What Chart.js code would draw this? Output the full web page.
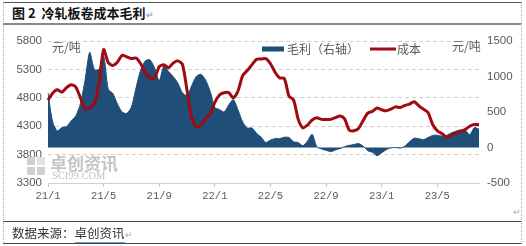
<!DOCTYPE html>
<html>
<head>
<meta charset="utf-8">
<script src="https://cdn.jsdelivr.net/npm/chart.js@4/dist/chart.umd.min.js"></script>
<style>
  body { margin: 0; background: #fff; }
  #wrap { position: relative; width: 526px; height: 246px; font-family: "Noto Sans CJK SC", sans-serif; }
  .hline { position: absolute; left: 3px; width: 518px; height: 0; }
  .vline { position: absolute; top: 2px; height: 242px; width: 0; border-left: 1px dotted #aaa; }
  #title { position: absolute; left: 12px; top: 3px; font-size: 13px; font-weight: bold; color: #111; line-height: 20px; }
  #source { position: absolute; left: 12px; top: 223px; font-size: 12.5px; color: #333; line-height: 19px; }
  #source u { text-decoration: none; border-bottom: 1px solid #6e9be0; }
  .mark { color: #aaa; font-size: 9px; }
  #box { position: absolute; left: 4px; top: 25px; width: 516px; height: 195px; }
</style>
</head>
<body>
<div id="wrap">
  <div class="hline" style="top:2px; border-top:1.5px solid #555;"></div>
  <div class="vline" style="left:3px;"></div>
  <div class="vline" style="left:521px;"></div>
  <div id="title">图 2&nbsp;&nbsp;冷轧板卷成本毛利<span class="mark">↵</span></div>
  <div class="hline" style="top:23px; border-top:2px solid #888;"></div>
  <div id="box"><canvas id="costChart"></canvas></div>
  <div class="mark" style="position:absolute; left:513px; top:205px;">↵</div>
  <div class="hline" style="top:221px; border-top:1.5px solid #444;"></div>
  <div id="source">数据来源：<u>卓创资讯</u><span class="mark">↵</span></div>
  <div class="hline" style="top:243px; border-top:1.5px solid #444;"></div>
</div>
<script>
// dekad dates (yy/m/dd)
const dates = [
  '21/1/01','21/1/11','21/1/21','21/2/01','21/2/11','21/2/21','21/3/01','21/3/11','21/3/21','21/4/01','21/4/11','21/4/21',
  '21/5/01','21/5/11','21/5/21','21/6/01','21/6/11','21/6/21','21/7/01','21/7/11','21/7/21','21/8/01','21/8/11','21/8/21',
  '21/9/01','21/9/11','21/9/21','21/10/01','21/10/11','21/10/21','21/11/01','21/11/11','21/11/21','21/12/01','21/12/11','21/12/21',
  '22/1/01','22/1/11','22/1/21','22/2/01','22/2/11','22/2/21','22/3/01','22/3/11','22/3/21','22/4/01','22/4/11','22/4/21',
  '22/5/01','22/5/11','22/5/21','22/6/01','22/6/11','22/6/21','22/7/01','22/7/11','22/7/21','22/8/01','22/8/11','22/8/21',
  '22/9/01','22/9/11','22/9/21','22/10/01','22/10/11','22/10/21','22/11/01','22/11/11','22/11/21','22/12/01','22/12/11','22/12/21',
  '23/1/01','23/1/11','23/1/21','23/2/01','23/2/11','23/2/21','23/3/01','23/3/11','23/3/21','23/4/01','23/4/11','23/4/21',
  '23/5/01','23/5/11','23/5/21','23/6/01','23/6/11','23/6/21','23/7/01','23/7/11','23/7/21','23/8/01'
];

// 成本, 元/吨 (left axis)
const cost = [
  4760,4880,4940,4900,4980,5030,4990,4800,4600,4630,
  4690,5050,5650,5420,5370,5430,5550,5520,5490,5500,
  5400,5240,5150,5150,5350,5380,5330,5410,5450,5390,
  4930,4450,4290,4320,4440,4510,4720,4850,4890,4890,
  4800,4920,5190,5280,5380,5480,5483,5490,5400,5250,
  5150,5140,4830,4760,4420,4270,4320,4410,4450,4420,
  4420,4420,4450,4480,4430,4230,4220,4260,4400,4530,
  4560,4620,4590,4570,4600,4640,4630,4665,4690,4730,
  4660,4600,4540,4330,4220,4170,4110,4140,4180,4210,
  4240,4300,4330,4330
];

// 毛利, 元/吨 (right axis)
const margin = [
  770,360,234,280,295,375,445,620,950,1340,
  1100,1100,1290,820,760,610,500,480,570,840,
  1090,1220,1235,1120,940,1150,1070,1000,910,770,
  730,870,1000,1030,950,790,565,535,500,600,
  675,530,360,275,275,200,145,70,105,125,
  125,145,140,80,70,25,90,187,14,-20,
  -40,-58,-35,-15,12,30,42,55,20,-45,
  -68,-115,-75,-30,-5,0,-8,18,80,130,
  125,110,140,170,173,160,170,205,228,248,
  245,180,280,260
];

const xTickLabels = ['21/1', '21/5', '21/9', '22/1', '22/5', '22/9', '23/1', '23/5'];
const leftTicks = [3300, 3800, 4300, 4800, 5300, 5800];
const rightTicks = [-500, 0, 500, 1000, 1500];

const NAVY = '#1F4E79';
const RED = '#A00A10';
const GREY_TEXT = '#595959';
const CJK = '"Noto Sans CJK SC", sans-serif';

function xLabel(i) {
  const d = dates[i];
  const m = d.slice(0, d.lastIndexOf('/'));
  return d.endsWith('/01') && xTickLabels.includes(m) ? m : '';
}

// legend, unit captions and watermark drawn over the chart area
const overlay = {
  id: 'overlay',
  beforeDatasetsDraw(chart) {
    const ctx = chart.ctx;
    const a = chart.chartArea;
    ctx.save();
    // watermark
    const wx = a.left - 21, wy = a.bottom - 26;
    ctx.fillStyle = '#d0d0d0';
    ctx.fillRect(wx, wy, 8, 8);
    ctx.fillRect(wx + 10, wy + 10, 8, 8);
    ctx.fillRect(wx, wy + 10, 8, 8);
    ctx.fillStyle = '#e2e2e2';
    ctx.fillRect(wx + 10, wy, 8, 8);
    ctx.fillStyle = '#c4c4c4';
    ctx.font = 'bold 17px ' + CJK;
    ctx.textBaseline = 'middle';
    ctx.fillText('卓创资讯', a.left + 2, a.bottom - 19);
    ctx.font = '10.5px "Liberation Serif", serif';
    ctx.fillText('SCI99.COM', a.left + 4, a.bottom - 7);
    ctx.restore();
  },
  afterDraw(chart) {
    const ctx = chart.ctx;
    const a = chart.chartArea;
    ctx.save();
    ctx.font = '12px ' + CJK;
    ctx.fillStyle = GREY_TEXT;
    ctx.textBaseline = 'middle';
    ctx.fillText('元/吨', a.left + 4, a.top + 6);
    ctx.fillText('元/吨', a.right - 27, a.top + 5);

    const y = a.top + 8;
    ctx.fillStyle = NAVY;
    ctx.fillRect(a.left + 214, y - 2.5, 22, 5);
    ctx.fillStyle = GREY_TEXT;
    ctx.fillText(chart.data.datasets[1].label, a.left + 239, y);

    ctx.strokeStyle = RED;
    ctx.lineWidth = 3;
    ctx.beginPath();
    ctx.moveTo(a.left + 322, y);
    ctx.lineTo(a.left + 348, y);
    ctx.stroke();
    ctx.fillText(chart.data.datasets[0].label, a.left + 349, y);
    ctx.restore();
  }
};

new Chart(document.getElementById('costChart'), {
  type: 'line',
  data: {
    labels: dates,
    datasets: [
      {
        label: '成本',
        data: cost,
        yAxisID: 'y',
        borderColor: RED,
        borderWidth: 3,
        pointRadius: 0,
        tension: 0.25,
        fill: false,
        order: 0
      },
      {
        label: '毛利（右轴）',
        data: margin,
        yAxisID: 'y1',
        borderColor: NAVY,
        backgroundColor: NAVY,
        borderWidth: 1,
        pointRadius: 0,
        tension: 0.25,
        fill: 'origin',
        order: 1
      }
    ]
  },
  options: {
    responsive: true,
    maintainAspectRatio: false,
    animation: false,
    layout: { padding: { top: 16, left: 0, right: 0, bottom: 0 } },
    plugins: {
      legend: { display: false },
      tooltip: { enabled: false }
    },
    scales: {
      x: {
        afterFit: (s) => { s.height = 37; },
        grid: {
          drawOnChartArea: false,
          tickLength: 4,
          tickColor: (c) => (c.tick && xLabel(c.index) ? '#c8c8c8' : 'transparent')
        },
        border: { color: '#d0d0d0' },
        ticks: {
          autoSkip: false,
          maxRotation: 0,
          padding: 3,
          color: GREY_TEXT,
          font: { family: '"Liberation Mono", monospace', size: 10.5 },
          callback: (v, i) => xLabel(i)
        }
      },
      y: {
        position: 'left',
        min: leftTicks[0],
        max: leftTicks[leftTicks.length - 1],
        afterFit: (s) => { s.width = 44; },
        afterBuildTicks: (s) => { s.ticks = leftTicks.map(v => ({ value: v })); },
        grid: { color: '#d0d0d0', drawTicks: false },
        border: { display: false, dash: [4, 3] },
        ticks: {
          padding: 6,
          color: GREY_TEXT,
          font: { family: '"Liberation Sans", sans-serif', size: 11.5 },
          callback: (v) => String(v)
        }
      },
      y1: {
        position: 'right',
        min: rightTicks[0],
        max: rightTicks[rightTicks.length - 1],
        afterFit: (s) => { s.width = 41; },
        afterBuildTicks: (s) => { s.ticks = rightTicks.map(v => ({ value: v })); },
        grid: { drawOnChartArea: false, drawTicks: false },
        border: { display: false },
        ticks: {
          padding: 8,
          color: GREY_TEXT,
          font: { family: '"Liberation Sans", sans-serif', size: 11.5 },
          callback: (v) => String(v)
        }
      }
    }
  },
  plugins: [overlay]
});
</script>
</body>
</html>
